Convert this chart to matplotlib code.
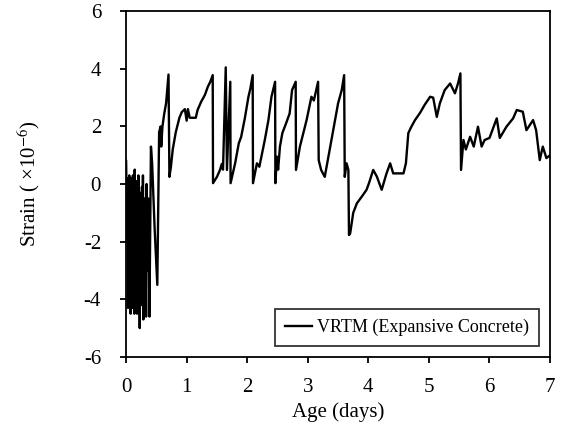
import matplotlib
matplotlib.use('Agg')
import matplotlib.pyplot as plt

plt.rcParams['font.family'] = ['Liberation Serif', 'DejaVu Serif']
plt.rcParams['mathtext.fontset'] = 'stix'
plt.rcParams['axes.unicode_minus'] = False

# 材齢 (days) とひずみ (x10^-6)
age = [0.000, 0.008, 0.015, 0.022, 0.030, 0.038, 0.045, 0.052, 0.060, 0.068,
       0.075, 0.082, 0.090, 0.098, 0.105, 0.112, 0.120, 0.128, 0.135, 0.142,
       0.150, 0.158, 0.165, 0.172, 0.180, 0.188, 0.195, 0.202, 0.210, 0.218,
       0.225, 0.232, 0.240, 0.248, 0.255, 0.262, 0.270, 0.278, 0.285, 0.292,
       0.300, 0.308, 0.315, 0.322, 0.330, 0.338, 0.345, 0.355, 0.365, 0.385,
       0.41, 0.43, 0.47, 0.515, 0.545, 0.57, 0.58, 0.60, 0.63, 0.66,
       0.70, 0.715, 0.74, 0.77, 0.82, 0.88, 0.92, 0.97, 1.00, 1.02,
       1.05, 1.10, 1.15, 1.18, 1.24, 1.30, 1.35, 1.39, 1.43, 1.435,
       1.50, 1.55, 1.58, 1.60, 1.645, 1.665, 1.72, 1.725, 1.80, 1.86,
       1.90, 1.96, 2.02, 2.05, 2.09, 2.095, 2.16, 2.20, 2.29, 2.35,
       2.40, 2.46, 2.465, 2.49, 2.51, 2.54, 2.58, 2.64, 2.70, 2.74,
       2.80, 2.805, 2.87, 2.98, 3.06, 3.10, 3.17, 3.18, 3.22, 3.28,
       3.34, 3.42, 3.50, 3.56, 3.60, 3.61, 3.64, 3.67, 3.68, 3.70,
       3.75, 3.81, 3.89, 3.97, 4.01, 4.08, 4.14, 4.22, 4.30, 4.36,
       4.41, 4.58, 4.62, 4.66, 4.71, 4.77, 4.85, 4.93, 5.02, 5.07,
       5.13, 5.18, 5.26, 5.35, 5.43, 5.48, 5.52, 5.53, 5.57, 5.61,
       5.68, 5.74, 5.81, 5.87, 5.92, 6.00, 6.12, 6.17, 6.28, 6.39,
       6.45, 6.55, 6.61, 6.72, 6.77, 6.83, 6.88, 6.94, 7.00]
strain = [0.8, -0.3, -2.0, 0.2, -4.3, -0.5, -3.8, 0.3, -4.2, -1.0,
          -4.5, 0.2, -3.5, -0.2, -4.3, 0.3, -2.8, -0.3, -4.5, 0.5,
          -3.9, -0.2, -4.0, 0.1, -4.5, -0.8, -3.2, 0.3, -4.1, -0.4,
          -5.0, -0.6, -3.6, -0.3, -4.2, -0.1, -2.9, 0.3, -4.7, -1.0,
          -4.3, -0.5, -3.8, -1.5, -4.6, 0.0, -2.5, -3.0, -0.5, -4.6,
          1.3, 0.7, -1.5, -3.5, 1.8, 2.0, 1.3, 2.0, 2.45, 2.8,
          3.8, 0.25, 0.6, 1.2, 1.8, 2.3, 2.5, 2.6, 2.2, 2.6,
          2.3, 2.3, 2.3, 2.57, 2.86, 3.09, 3.38, 3.55, 3.78, 0.03,
          0.25, 0.49, 0.7, 0.5, 4.05, 0.49, 3.55, 0.03, 0.72, 1.41,
          1.64, 2.28, 3.03, 3.3, 3.78, 0.03, 0.72, 0.6, 1.53, 2.22,
          3.03, 3.55, 0.03, 0.95, 0.5, 1.3, 1.77, 2.1, 2.45, 3.26,
          3.55, 0.49, 1.3, 2.22, 3.03, 2.9, 3.55, 0.83, 0.49, 0.25,
          0.95, 1.87, 2.8, 3.26, 3.78, 0.25, 0.72, 0.49, -1.77, -1.71,
          -1.0, -0.67, -0.44, -0.2, 0.03, 0.49, 0.26, -0.2, 0.37, 0.72,
          0.37, 0.37, 0.72, 1.77, 1.99, 2.22, 2.46, 2.75, 3.03, 3.0,
          2.33, 2.8, 3.26, 3.49, 3.15, 3.49, 3.84, 0.49, 1.53, 1.2,
          1.64, 1.3, 1.99, 1.3, 1.53, 1.6, 2.28, 1.6, 1.99, 2.28,
          2.57, 2.51, 1.87, 2.22, 1.87, 0.83, 1.3, 0.9, 1.0]

fig = plt.figure(figsize=(5.63, 4.30), dpi=100)
ax = fig.add_axes([0.224, 0.170, 0.753, 0.804])

ax.plot(age, strain, color='black', lw=1.7, label='VRTM (Expansive Concrete)')

ax.set_xlim(0, 7)
ax.set_ylim(-6, 6)
ax.set_xticks(range(0, 8))
ax.set_yticks(range(-6, 7, 2))
ax.tick_params(direction='out', length=4, width=1.3, labelsize=15)
ax.tick_params(axis='y', pad=14)
ax.tick_params(axis='x', pad=11)
for s in ax.spines.values():
    s.set_linewidth(1.3)

ax.set_xlabel('Age (days)', fontsize=15, labelpad=4)
ax.set_ylabel('Strain ( ×10$^{-6}$)', fontsize=15, labelpad=30)

leg = ax.legend(loc='lower right', fontsize=13, frameon=True, fancybox=False,
                edgecolor='black', handlelength=1.5, handletextpad=0.3,
                borderpad=0.55, borderaxespad=0.6)
leg.get_frame().set_linewidth(1.3)

plt.savefig('out.png', dpi=100)
